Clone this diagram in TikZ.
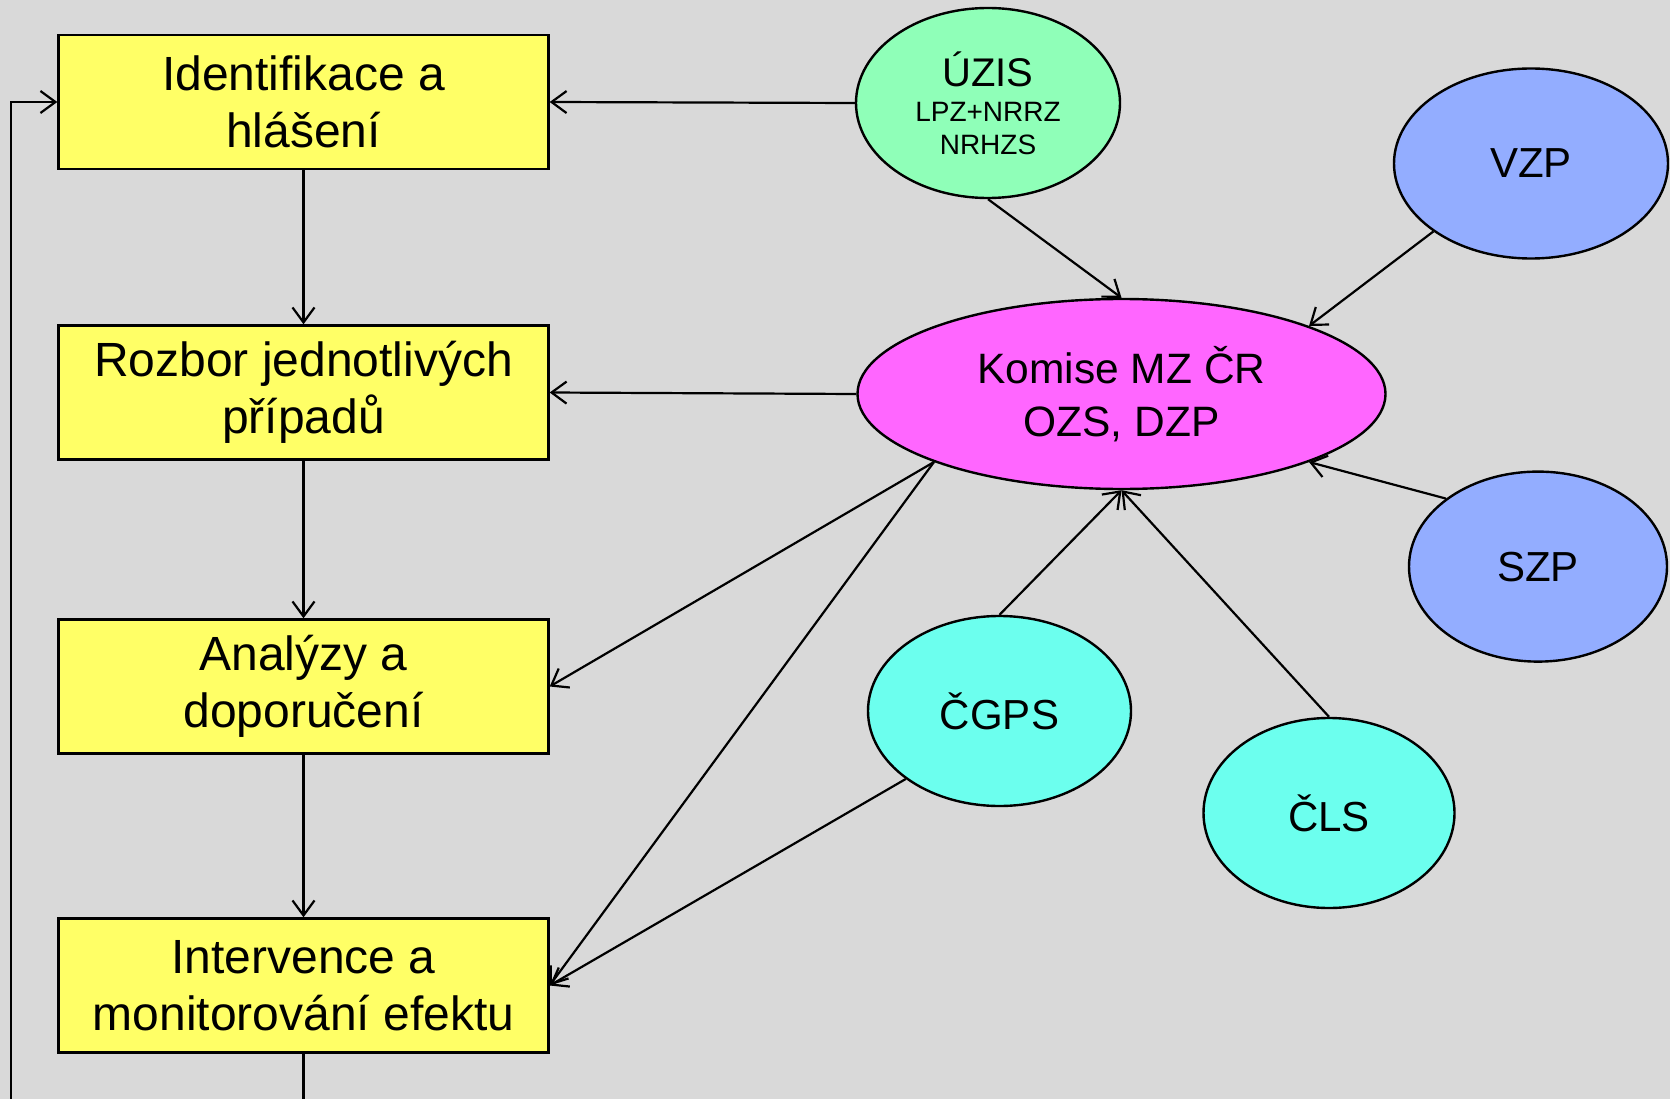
\documentclass[tikz,border=0pt]{standalone}
\usepackage{fontspec}
\setmainfont{Liberation Sans}
\usetikzlibrary{shapes.geometric,arrows.meta}
\definecolor{bg}{RGB}{217,217,217}
\definecolor{boxy}{RGB}{255,255,102}
\definecolor{uzisg}{RGB}{143,255,184}
\definecolor{komm}{RGB}{255,102,255}
\definecolor{pojb}{RGB}{147,173,255}
\definecolor{profc}{RGB}{108,255,238}
\tikzset{
  stepbox/.style={draw=black, line width=2.4pt, fill=boxy, rectangle, minimum width=490pt, minimum height=134pt, inner sep=0pt, align=center, font=\fontsize{48}{57}\selectfont},
  oval/.style={draw=black, line width=2.4pt, ellipse, inner sep=0pt, align=center, minimum height=190pt, font=\fontsize{42}{50}\selectfont},
  conn/.style={line width=2.2pt, draw=black},
  arr/.style={conn, -{Straight Barb[length=15pt,width=22pt,line width=2.2pt]}}
}
\begin{document}
\begin{tikzpicture}[x=1pt,y=-1pt]
\fill[bg] (0,0) rectangle (1670,1099);
\useasboundingbox (0,0) rectangle (1670,1099);

\node[stepbox] (b1) at (303.5,102) {Identifikace a\\hlášení};
\node[stepbox] (b2) at (303.5,392.5) {Rozbor jednotlivých\\případů};
\node[stepbox] (b3) at (303.5,686.5) {Analýzy a\\doporučení};
\node[stepbox] (b4) at (303.5,985.5) {Intervence a\\monitorování efektu};

\node[oval, fill=uzisg, minimum width=264pt, font=\fontsize{28}{33}\selectfont] (uzis) at (988,103)
  {{\fontsize{40}{44}\selectfont ÚZIS}\\[2pt]LPZ+NRRZ\\NRHZS};
\node[oval, fill=komm, minimum width=528pt, font=\fontsize{42.5}{53}\selectfont] (kom) at (1121.5,394) {Komise MZ ČR\\OZS, DZP};
\node[oval, fill=pojb, minimum width=274pt] (vzp) at (1531,163.5) {VZP};
\node[oval, fill=pojb, minimum width=258pt] (szp) at (1538,566.6) {SZP};
\node[oval, fill=profc, minimum width=263pt] (cgps) at (999.5,711) {ČGPS};
\node[oval, fill=profc, minimum width=251pt] (cls) at (1329,813) {ČLS};

\coordinate (bot4) at (303.5,1099);
\coordinate (loopb) at (10.6,1099);

% vertical flow
\draw[arr] (b1.south) -- (b2.north);
\draw[arr] (b2.south) -- (b3.north);
\draw[arr] (b3.south) -- (b4.north);
\draw[conn] (b4.south) -- (bot4);
\draw[arr] (loopb) |- (b1.west);

% right side
\draw[arr] (uzis.west) -- (b1.east);
\draw[arr] (uzis.south) -- (kom.north);
\draw[arr] (vzp.south west) -- (kom.north east);
\draw[arr] (szp.north west) -- (kom.south east);
\draw[arr] (cgps.north) -- (kom.south);
\draw[arr] (cls.north) -- (kom.south);
\draw[arr] (kom.west) -- (b2.east);
\draw[arr] (kom.south west) -- (b3.east);
\draw[arr] (kom.south west) -- (b4.east);
\draw[arr] (cgps.south west) -- (b4.east);
\end{tikzpicture}
\end{document}
